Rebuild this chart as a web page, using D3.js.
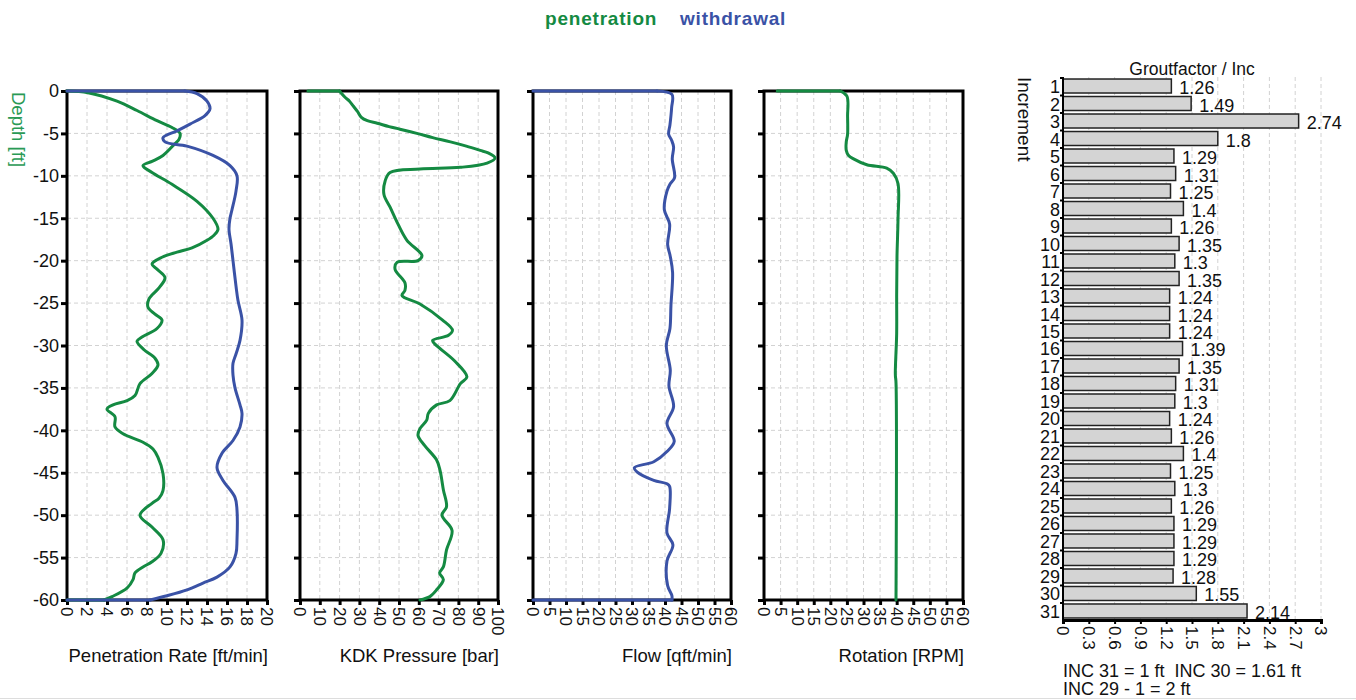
<!DOCTYPE html>
<html>
<head>
    <meta charset="utf-8">
    <title>Column Log</title>
    <script src="https://d3js.org/d3.v7.min.js"></script>
    <style>
        body {
            margin: 0;
            background: #fff;
            font-family: "Liberation Sans", Arial, sans-serif;
        }
        svg text {
            font-family: "Liberation Sans", Arial, sans-serif;
            fill: #111;
        }
        .grid line {
            stroke: #d2d2d2;
            stroke-width: 1;
            stroke-dasharray: 4,3;
        }
    </style>
</head>
<body>
    <svg id="chart" width="1356" height="700"></svg>

    <script>
        // ---- data (value, depth in ft) ----
        const penDepth = [0, -0.2, -1.2, -2.3, -3.5, -4.3, -5, -5.7, -6.2, -7.6, -8.3, -8.8, -9.6, -11, -13, -15, -16.3, -17, -17.6, -18.5, -19, -19.6, -20.4, -21, -22, -23.2, -24.5, -25.5, -26.3, -27, -28, -29, -29.5, -30.5, -31.5, -32.3, -33.3, -34.5, -35.9, -36.5, -37, -37.5, -38.4, -39.6, -40.4, -41.4, -42.2, -43.2, -45.1, -47.1, -48, -48.6, -50, -51.4, -52.9, -54.5, -55.5, -56.1, -56.8, -57.6, -58.6, -59.6, -60, -60];
        const penRate = [0, 2.1, 5, 7, 9, 10.5, 11.3, 11.2, 10.8, 9.6, 8.5, 7.6, 8.5, 10.5, 13, 14.6, 15.1, 14.7, 14, 12.5, 11, 9.5, 8.5, 9, 9.8, 9.2, 8.2, 8.1, 8.8, 9.5, 9, 7.5, 7, 7.7, 8.8, 9.1, 8.5, 7.3, 6.8, 6, 4.6, 4, 4.8, 4.8, 5.6, 7.6, 8.6, 9.1, 9.6, 9.6, 9.2, 8.5, 7.3, 8.5, 9.6, 9.4, 8.5, 7.6, 6.8, 6.6, 6, 4.5, 3.7, 0];

        const wdrDepth = [0, 0, -0.3, -1.2, -2.1, -2.9, -3.9, -4.7, -5.5, -6, -6.5, -7.6, -8.8, -10, -11.8, -14, -15, -16.3, -18, -20, -23, -24.7, -27, -29.4, -31, -32.1, -33.5, -35, -37, -38, -39.6, -41.2, -42.7, -44.4, -45.9, -47.9, -49.4, -52.9, -54.5, -56.1, -57.3, -58, -58.8, -59.5, -60, -60];
        const wdrRate = [0, 11.8, 13, 14, 14.3, 13.8, 12.3, 11, 9.6, 9.8, 12, 14.6, 16.3, 17, 16.9, 16.5, 16.3, 16.2, 16.4, 16.6, 16.9, 17.1, 17.5, 17.3, 16.9, 16.6, 16.6, 16.8, 17.3, 17.5, 17.3, 16.6, 15.5, 15, 15.6, 16.8, 17, 17, 16.9, 16.3, 15, 13.6, 12, 10, 8.3, 0];

        const kdkDepth = [0, 0, -0.3, -0.8, -1.2, -1.8, -2.4, -3.1, -3.5, -3.8, -4.2, -4.5, -5, -5.5, -6, -6.5, -7, -7.3, -7.9, -8.5, -9, -9.2, -9.6, -10.6, -12.2, -13.7, -15.7, -17.6, -19.4, -20, -20.2, -21, -22.6, -23.5, -24.1, -25.1, -27, -28.2, -28.8, -29.4, -29.8, -31.8, -33.7, -34.5, -36.5, -37, -38, -38.8, -39.8, -40.6, -41.8, -43.5, -44.7, -47, -49, -50, -51.8, -54.1, -56.1, -56.8, -57.6, -58.8, -59.6, -60];
        const kdkPressure = [4, 20, 21, 23, 25, 27, 29, 31, 34, 39, 45, 50.5, 59, 67, 76, 84, 91, 95, 98.5, 94.5, 81, 60.6, 45.5, 43, 42.4, 45.5, 49.5, 54, 61.6, 59.6, 49, 48, 53, 53, 51.5, 60.6, 72, 77, 75, 67, 68, 78, 84.3, 81, 75.7, 69, 64.8, 64, 60.6, 59.6, 63, 69, 70.7, 72.4, 74, 71.7, 76.8, 74, 72.4, 70.5, 72.4, 69, 65.6, 60.6];

        const flowDepth = [0, 0, -0.4, -2, -4, -5.1, -5.8, -6.6, -8, -10.2, -11, -11.8, -14, -15.7, -18.1, -19.5, -21.4, -25.3, -28, -30, -32.9, -34.8, -37.2, -39.2, -41.3, -42.5, -43.7, -44.4, -44.9, -45.9, -46.3, -46.6, -49.2, -52.1, -53.5, -55.4, -58.3, -59.5, -60, -60];
        const flowRate = [0, 37.6, 42.1, 42, 41.5, 41.1, 42, 42.6, 42.2, 42.9, 41.5, 40.6, 39.8, 41.4, 40.8, 41.6, 42.3, 41.8, 41.5, 40.4, 41.6, 41.2, 42.6, 40.6, 42.8, 40.6, 36.6, 30.7, 31.5, 36.6, 40.6, 41.4, 41.4, 40.6, 42.4, 40.6, 40.8, 42.1, 42.1, 0];

        const rotDepth = [0, 0, -0.6, -3, -5.1, -6, -7, -7.6, -8, -8.7, -9.1, -9.7, -10.9, -15.2, -19.5, -24, -28.6, -33.4, -34.4, -60];
        const rotSpeed = [4, 23, 25, 25.2, 25.2, 24.8, 24.8, 25.5, 27, 31, 37, 39, 40.4, 40.4, 40.1, 40, 40, 39.6, 39.8, 39.8];

        const increments = d3.range(1, 32);
        const groutFactor = [1.26, 1.49, 2.74, 1.8, 1.29, 1.31, 1.25, 1.4, 1.26, 1.35, 1.3, 1.35, 1.24, 1.24, 1.24, 1.39, 1.35, 1.31, 1.3, 1.24, 1.26, 1.4, 1.25, 1.3, 1.26, 1.29, 1.29, 1.29, 1.28, 1.55, 2.14];
        const groutTicks = [0, 0.3, 0.6, 0.9, 1.2, 1.5, 1.8, 2.1, 2.4, 2.7, 3];
        const depthTicks = [0, -5, -10, -15, -20, -25, -30, -35, -40, -45, -50, -55, -60];
        const footNotes = ["INC 31 = 1 ft  INC 30 = 1.61 ft", "INC 29 - 1 = 2 ft"];

        const GREEN = '#148a42';
        const BLUE = '#3a52a6';
        const FONT = '"Liberation Sans", Arial, sans-serif';

        const svg = d3.select('#chart');

        // legend on top
        svg.append('text').attr('x', 545).attr('y', 25)
            .attr('font-size', '19px').attr('font-weight', 'bold')
            .attr('letter-spacing', '0.8px')
            .style('fill', GREEN).text('penetration');
        svg.append('text').attr('x', 680).attr('y', 25)
            .attr('font-size', '19px').attr('font-weight', 'bold')
            .attr('letter-spacing', '0.8px')
            .style('fill', BLUE).text('withdrawal');

        // depth axis title
        svg.append('text')
            .attr('transform', 'translate(12,92) rotate(90)')
            .attr('font-size', '18.5px')
            .style('fill', '#2a9a55')
            .text('Depth [ft]');

        const y = d3.scaleLinear().domain([0, -60]).range([91, 600]);

        const panels = [
            { x0: 67, x1: 267, max: 20, step: 2, label: 'Penetration Rate [ft/min]', labels: true,
              series: [{ v: penRate, d: penDepth, c: GREEN }, { v: wdrRate, d: wdrDepth, c: BLUE }] },
            { x0: 300, x1: 498, max: 100, step: 10, label: 'KDK Pressure [bar]',
              series: [{ v: kdkPressure, d: kdkDepth, c: GREEN }] },
            { x0: 533, x1: 731, max: 60, step: 5, label: 'Flow [qft/min]',
              series: [{ v: flowRate, d: flowDepth, c: BLUE }] },
            { x0: 764, x1: 963, max: 60, step: 5, label: 'Rotation [RPM]',
              series: [{ v: rotSpeed, d: rotDepth, c: GREEN }] }
        ];

        panels.forEach(p => {
            const x = d3.scaleLinear().domain([0, p.max]).range([p.x0, p.x1]);
            const xt = d3.range(0, p.max + p.step / 2, p.step);
            const g = svg.append('g');

            // grid
            const grid = g.append('g').attr('class', 'grid');
            grid.selectAll('.gv').data(xt.slice(1, -1)).join('line')
                .attr('x1', d => x(d)).attr('x2', d => x(d))
                .attr('y1', y(0)).attr('y2', y(-60));
            grid.selectAll('.gh').data(depthTicks.slice(1, -1)).join('line')
                .attr('x1', p.x0).attr('x2', p.x1)
                .attr('y1', d => y(d)).attr('y2', d => y(d));

            // frame
            g.append('rect')
                .attr('x', p.x0).attr('y', y(0))
                .attr('width', p.x1 - p.x0).attr('height', y(-60) - y(0))
                .attr('fill', 'none').attr('stroke', '#000').attr('stroke-width', 3);

            // left axis (plain hyphen minus like the original)
            const ay = g.append('g').attr('transform', `translate(${p.x0},0)`)
                .call(d3.axisLeft(y).tickValues(depthTicks).tickSize(6).tickPadding(2)
                    .tickFormat(p.labels ? (d => String(d)) : ''));
            ay.select('.domain').remove();
            ay.selectAll('line').attr('stroke-width', 3);
            ay.selectAll('text').attr('font-size', '18px').style('font-family', FONT);

            // bottom axis
            const ax = g.append('g').attr('transform', `translate(0,${y(-60)})`)
                .call(d3.axisBottom(x).tickValues(xt).tickSize(5).tickFormat(d => String(d)));
            ax.select('.domain').remove();
            ax.selectAll('line').attr('stroke-width', 3);
            ax.selectAll('text')
                .attr('font-size', '17px')
                .style('font-family', FONT)
                .attr('text-anchor', 'start')
                .attr('transform', 'translate(0,7) rotate(90)')
                .attr('x', 0).attr('y', 0).attr('dy', '0.36em');

            // axis title
            g.append('text')
                .attr('x', p.x1 + 1).attr('y', 662)
                .attr('text-anchor', 'end')
                .attr('font-size', '18.5px')
                .text(p.label);

            // curves: straight legs along the top / bottom edge, smooth in between
            const straight = d3.line().x(d => x(d[0])).y(d => y(d[1]));
            const smooth = d3.line().x(d => x(d[0])).y(d => y(d[1]))
                .curve(d3.curveCatmullRom.alpha(0.5));
            p.series.forEach(s => {
                const pts = s.v.map((v, i) => [v, s.d[i]]);
                let a = 0;
                while (a + 1 < pts.length && pts[a + 1][1] === pts[0][1]) a++;
                let b = pts.length - 1;
                while (b - 1 > a && pts[b - 1][1] === pts[pts.length - 1][1]) b--;
                const parts = [
                    { d: pts.slice(0, a + 1), gen: straight },
                    { d: pts.slice(a, b + 1), gen: smooth },
                    { d: pts.slice(b), gen: straight }
                ].filter(q => q.d.length > 1);
                parts.forEach(q => {
                    g.append('path')
                        .datum(q.d)
                        .attr('d', q.gen)
                        .attr('fill', 'none')
                        .attr('stroke', s.c)
                        .attr('stroke-width', 3)
                        .attr('stroke-linejoin', 'round')
                        .attr('stroke-linecap', 'round');
                });
            });
        });

        // ---- grout factor bar chart ----
        const bx = d3.scaleLinear().domain([0, 3]).range([1063, 1321]);
        const by = d3.scaleBand().domain(increments).range([77, 620])
            .paddingInner(0.2).paddingOuter(0.115);
        const bg = svg.append('g');

        bg.append('g').attr('class', 'grid')
            .selectAll('line').data(groutTicks.slice(1)).join('line')
            .attr('x1', d => bx(d)).attr('x2', d => bx(d))
            .attr('y1', 77).attr('y2', 620);

        bg.selectAll('rect.bar').data(groutFactor).join('rect')
            .attr('class', 'bar')
            .attr('x', bx(0))
            .attr('y', (d, i) => by(increments[i]))
            .attr('width', d => bx(d) - bx(0))
            .attr('height', by.bandwidth())
            .attr('fill', '#d4d4d4')
            .attr('stroke', '#222')
            .attr('stroke-width', 1.5);

        bg.selectAll('text.val').data(groutFactor).join('text')
            .attr('class', 'val')
            .attr('x', d => bx(d) + 8)
            .attr('y', (d, i) => by(increments[i]) + by.bandwidth() + 1)
            .attr('font-size', '18px')
            .text(d => d);

        // left axis of bars
        bg.append('line')
            .attr('x1', bx(0)).attr('x2', bx(0))
            .attr('y1', 77).attr('y2', 620)
            .attr('stroke', '#000').attr('stroke-width', 2);
        bg.selectAll('line.tk').data(increments).join('line')
            .attr('class', 'tk')
            .attr('x1', bx(0) - 3).attr('x2', bx(0))
            .attr('y1', d => by(d) - 1).attr('y2', d => by(d) - 1)
            .attr('stroke', '#000').attr('stroke-width', 2);
        bg.selectAll('text.cat').data(increments).join('text')
            .attr('class', 'cat')
            .attr('x', bx(0) - 3)
            .attr('y', d => by(d) + by.bandwidth())
            .attr('text-anchor', 'end')
            .attr('font-size', '18px')
            .text(d => d);

        // bottom axis of bars
        const bax = bg.append('g').attr('transform', 'translate(0,620)')
            .call(d3.axisBottom(bx).tickValues(groutTicks).tickSize(4).tickFormat(d => String(d)));
        bax.select('.domain').attr('stroke-width', 3);
        bax.selectAll('line').attr('stroke-width', 2);
        bax.selectAll('text')
            .attr('font-size', '17px')
            .style('font-family', FONT)
            .attr('text-anchor', 'start')
            .attr('transform', 'translate(0,6) rotate(90)')
            .attr('x', 0).attr('y', 0).attr('dy', '0.36em');

        bg.append('text')
            .attr('x', (bx(0) + bx(3)) / 2).attr('y', 75)
            .attr('text-anchor', 'middle')
            .attr('font-size', '17.5px')
            .text('Groutfactor / Inc');

        bg.append('text')
            .attr('transform', 'translate(1018,77) rotate(90)')
            .attr('font-size', '19px')
            .text('Increment');

        bg.selectAll('text.note').data(footNotes).join('text')
            .attr('class', 'note')
            .attr('x', 1063)
            .attr('y', (d, i) => 677 + i * 18)
            .attr('font-size', '18px')
            .style('white-space', 'pre')
            .text(d => d);

        // window edge line
        svg.append('line')
            .attr('x1', 0).attr('x2', 1356)
            .attr('y1', 698.5).attr('y2', 698.5)
            .attr('stroke', '#ddd');
    </script>
</body>
</html>
